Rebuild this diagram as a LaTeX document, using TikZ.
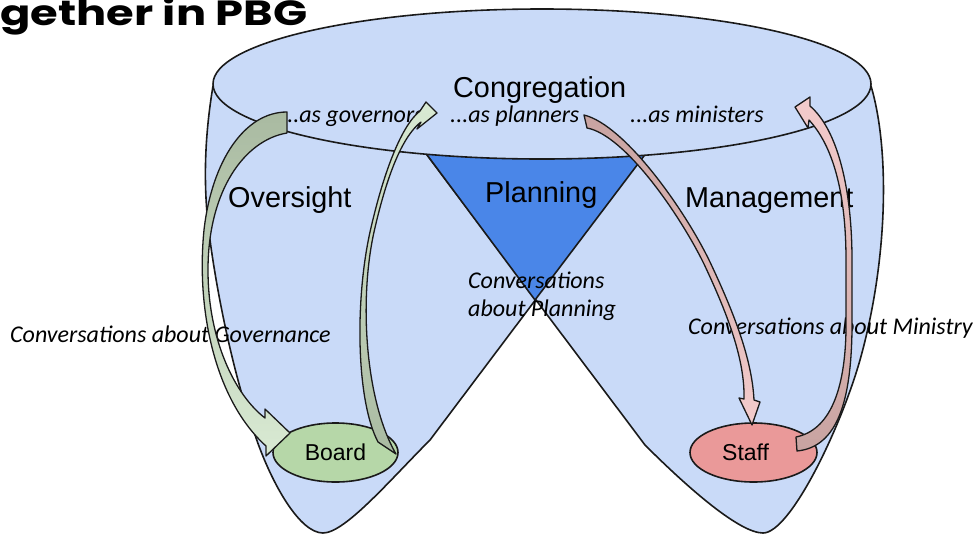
\documentclass[tikz,border=0pt]{standalone}
\usepackage{fontspec}
\setmainfont{Liberation Sans}
\newfontfamily\carl{Carlito}
\newfontfamily\pop{Poppins}
\usetikzlibrary{shapes.geometric}
\definecolor{bodyblue}{HTML}{C9DAF8}
\definecolor{triblue}{HTML}{4A86E8}
\definecolor{boardg}{HTML}{B6D7A8}
\definecolor{staffr}{HTML}{EA9999}
\definecolor{sage}{HTML}{A9BAA1}
\definecolor{lgreen}{HTML}{D9EAD3}
\definecolor{mauve}{HTML}{C8A3A1}
\definecolor{lpink}{HTML}{F4CCCC}
\definecolor{ink}{HTML}{1A1A1A}
\begin{document}
\begin{tikzpicture}[x=1pt,y=-1pt,line join=round,
  outl/.style={draw=ink,line width=1.6pt},
  arr/.style={draw=ink,line width=1.3pt},
  lbl/.style={inner sep=0,anchor=base west,font=\fontsize{28.8}{30}\selectfont},
  itl/.style={inner sep=0,anchor=base west,font=\carl\itshape\fontsize{24}{28}\selectfont},
  oval/.style={ellipse,draw=ink,line width=1.6pt,inner sep=0,minimum height=59pt,font=\fontsize{23}{24}\selectfont}]
\useasboundingbox (0,0) rectangle (980,536);
\clip (0,0) rectangle (980,536);
% title
\node[inner sep=0,anchor=base west,xscale=1.28,font=\pop\bfseries\fontsize{35}{38}\selectfont] (title) at (0,25) {gether in PBG};
% left lobe
\path[outl,fill=bodyblue] (213,86) .. controls (204,140) and (203,190) .. (210,240) .. controls (218,300) and (235,380) .. (255,435) .. controls (272,485) and (300,533) .. (323,533) .. controls (345,533) and (390,480) .. (430,440) -- (643,157) -- (542,120) -- cycle;
% right lobe
\path[outl,fill=bodyblue] (871,86) .. controls (890,150) and (888,260) .. (860,360) .. controls (840,430) and (790,533) .. (763,533) .. controls (740,533) and (690,490) .. (645,445) -- (427,155) -- (542,120) -- cycle;
% planning triangle
\path[outl,fill=triblue] (416,140) -- (535,300) -- (656,140) -- cycle;
% congregation ellipse
\path[outl,fill=bodyblue] (542,84) ellipse [x radius=329pt,y radius=75pt];
% board and staff
\node[oval,fill=boardg,minimum width=125pt] (board) at (335.5,452.5) {Board};
\node[oval,fill=staffr,minimum width=127pt] (staff) at (753.5,452.5) {};
\node[inner sep=0,anchor=base west,font=\fontsize{23}{24}\selectfont] (stafft) at (722,460) {Staff};
% labels
\node[lbl] (cong) at (453,97) {Congregation};
\node[lbl] (over) at (228,207) {Oversight};
\node[lbl] (plan) at (485,202) {Planning};
\node[lbl] (mgmt) at (685,207) {Management};
\node[itl] (gov) at (281,122) {...as governors};
\node[itl] (pln) at (450,122) {...as planners};
\node[itl] (min) at (630,122) {...as ministers};
\node[itl] (cgov) at (10,342) {Conversations about Governance};
\node[itl] (cmin) at (688,334) {Conversations about Ministry};
\node[itl] (cpl1) at (468,288) {Conversations};
\node[itl] (cpl2) at (468,316) {about Planning};
% arrow A: governors -> board
\path[arr,top color=sage,bottom color=lgreen] (287,112) .. controls (245,112) and (212,160) .. (204,230) .. controls (196,310) and (215,400) .. (266,446) -- (266,456) -- (290,433) -- (265,409) -- (265,418) .. controls (235,395) and (208,340) .. (208,270) .. controls (208,190) and (245,140) .. (287,133) -- cycle;
% arrow B: board -> planners
\path[arr,top color=lgreen,bottom color=sage] (396,454) .. controls (365,400) and (359,300) .. (374,232) .. controls (388,170) and (404,135) .. (421,122) -- (417,129) -- (437,113) -- (426,102) -- (420,111) .. controls (402,125) and (384,170) .. (370,232) .. controls (355,300) and (356,400) .. (378,442) -- cycle;
% arrow C: planners -> staff
\path[arr,top color=mauve,bottom color=lpink] (584,115) .. controls (625,125) and (685,210) .. (710,262) .. controls (735,315) and (752,360) .. (754,400) -- (760,402) -- (752,425) -- (739,398) -- (744,399) .. controls (745,360) and (728,315) .. (704,264) .. controls (680,215) and (625,135) .. (587,128) -- cycle;
% arrow D: staff -> ministers
\path[arr,top color=lpink,bottom color=mauve] (796,437) .. controls (830,430) and (845,390) .. (846,330) -- (846,260) .. controls (846,190) and (832,145) .. (809,120) -- (808,128) -- (795,107) -- (810,97) -- (810,106) .. controls (838,130) and (852,190) .. (852,260) -- (852,330) .. controls (851,400) and (838,447) .. (797,451) -- cycle;
\end{tikzpicture}
\end{document}
